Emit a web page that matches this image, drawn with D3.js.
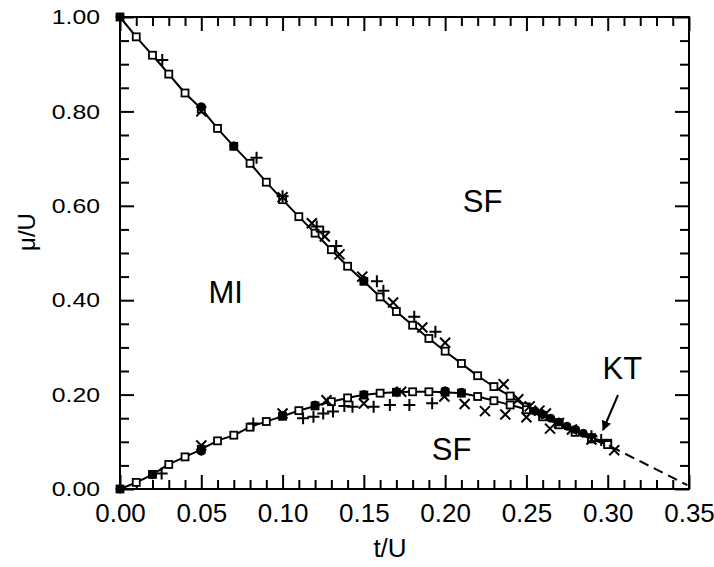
<!DOCTYPE html>
<html><head><meta charset="utf-8">
<script src="https://cdn.jsdelivr.net/npm/d3@7"></script>
<style>
html,body{margin:0;padding:0;background:#fff;}
svg{display:block;}
text{font-family:"Liberation Sans",Arial,Helvetica,sans-serif;fill:#000;}
</style></head><body>
<svg id="chart" width="714" height="567"></svg>
<script>
// ---- data ----
const xTicks = [0, 0.05, 0.10, 0.15, 0.20, 0.25, 0.30, 0.35];
const yTicks = [0, 0.2, 0.4, 0.6, 0.8, 1.0];
const upperSquares = [[0,1.0],[0.01,0.958],[0.02,0.919],[0.03,0.879],[0.04,0.839],[0.05,0.805],[0.06,0.764],[0.07,0.726],[0.08,0.690],[0.09,0.650],[0.10,0.613],[0.11,0.577],[0.12,0.542],[0.13,0.507],[0.14,0.472],[0.15,0.440],[0.16,0.407],[0.17,0.376],[0.18,0.347],[0.19,0.319],[0.20,0.292],[0.21,0.266],[0.22,0.240],[0.23,0.217],[0.24,0.197],[0.25,0.174],[0.26,0.156],[0.27,0.139],[0.28,0.123],[0.29,0.109],[0.30,0.097]];
const lowerSquares = [[0,0],[0.01,0.014],[0.02,0.031],[0.03,0.052],[0.04,0.068],[0.05,0.084],[0.06,0.102],[0.07,0.114],[0.08,0.131],[0.09,0.143],[0.10,0.154],[0.11,0.166],[0.12,0.176],[0.13,0.185],[0.14,0.193],[0.15,0.199],[0.16,0.203],[0.17,0.205],[0.18,0.206],[0.19,0.206],[0.20,0.205],[0.21,0.203],[0.22,0.196],[0.23,0.187],[0.24,0.178],[0.25,0.168],[0.26,0.153],[0.27,0.136],[0.28,0.120],[0.29,0.106],[0.30,0.094]];
const dashedLine = [[0.302,0.090],[0.349,0.008]];
const circles = [[0,1.0],[0.05,0.81],[0.07,0.727],[0.15,0.442],[0,0],[0.02,0.03],[0.05,0.08],[0.10,0.156],[0.12,0.178],[0.15,0.200],[0.17,0.206],[0.20,0.208],[0.21,0.205],[0.255,0.165],[0.26,0.158],[0.265,0.150],[0.27,0.142],[0.275,0.133],[0.28,0.126],[0.285,0.118]];
const upperX = [[0.05,0.80],[0.10,0.618],[0.118,0.563],[0.126,0.535],[0.135,0.497],[0.149,0.45],[0.168,0.395],[0.186,0.342],[0.20,0.31],[0.236,0.222],[0.245,0.19],[0.252,0.175],[0.258,0.166],[0.262,0.160],[0.27,0.140],[0.278,0.126],[0.29,0.105],[0.304,0.082]];
const lowerX = [[0.05,0.092],[0.10,0.160],[0.127,0.188],[0.150,0.181],[0.173,0.206],[0.1995,0.196],[0.212,0.180],[0.2245,0.165],[0.237,0.158],[0.250,0.152],[0.2645,0.128]];
const upperPlus = [[0.026,0.909],[0.084,0.702],[0.10,0.62],[0.121,0.556],[0.125,0.545],[0.133,0.515],[0.158,0.44],[0.162,0.42],[0.181,0.365],[0.194,0.333],[0.29,0.112],[0.296,0.104]];
const lowerPlus = [[0.0256,0.033],[0.082,0.139],[0.1126,0.150],[0.119,0.153],[0.125,0.160],[0.131,0.164],[0.138,0.176],[0.143,0.174],[0.156,0.174],[0.166,0.178],[0.178,0.178],[0.192,0.1815]];
const regionLabels = [["MI",0.065,0.395],["SF",0.223,0.587],["SF",0.204,0.061],["KT",0.309,0.232]];

// ---- layout ----
const svg = d3.select("#chart");
const x = d3.scaleLinear().domain([0,0.35]).range([120,689]);
const y = d3.scaleLinear().domain([0,1]).range([489,17]);
const g = svg.append("g");

// frame
g.append("rect").attr("x",x(0)).attr("y",y(1)).attr("width",x(0.35)-x(0)).attr("height",y(0)-y(1))
 .attr("fill","none").attr("stroke","#000").attr("stroke-width",2);

const xMinor = d3.range(0,36).map(i=>i/100).filter(v=>Math.round(v*100)%5!==0);
const yMinor = [0.05,0.1,0.15,0.25,0.3,0.35,0.45,0.5,0.55,0.65,0.7,0.75,0.85,0.9,0.95];
function tickAxis(axisFn, scale, vals, size, tr){
  const a = g.append("g").attr("transform",tr)
    .call(axisFn(scale).tickValues(vals).tickSizeInner(-size).tickSizeOuter(0).tickFormat(""));
  a.select(".domain").remove();
  a.selectAll("line").attr("stroke","#000").attr("stroke-width",2);
  return a;
}
tickAxis(d3.axisBottom, x, xMinor, 9, `translate(0,${y(0)})`);
tickAxis(d3.axisTop, x, xMinor, 9, `translate(0,${y(1)})`);
tickAxis(d3.axisBottom, x, xTicks, 14, `translate(0,${y(0)})`);
tickAxis(d3.axisTop, x, xTicks, 14, `translate(0,${y(1)})`);
tickAxis(d3.axisLeft, y, yMinor, 9, `translate(${x(0)},0)`);
tickAxis(d3.axisRight, y, yMinor, 9, `translate(${x(0.35)},0)`);
tickAxis(d3.axisLeft, y, yTicks, 14, `translate(${x(0)},0)`);
tickAxis(d3.axisRight, y, yTicks, 14, `translate(${x(0.35)},0)`);

// tick labels
const xl = g.append("g").attr("transform",`translate(0,${y(0)})`)
  .call(d3.axisBottom(x).tickValues(xTicks).tickSize(0).tickPadding(15).tickFormat(d3.format(".2f")));
xl.select(".domain").remove();
xl.selectAll("text").style("font-size","26px").style("font-family","'Liberation Sans',Arial,sans-serif");
const yl = g.append("g").attr("transform",`translate(${x(0)},0)`)
  .call(d3.axisLeft(y).tickValues(yTicks).tickSize(0).tickPadding(20).tickFormat(d3.format(".2f")));
yl.select(".domain").remove();
yl.selectAll("text").style("font-size","21px").style("font-family","'Liberation Sans',Arial,sans-serif")
  .attr("x",-20/1.18).attr("transform","scale(1.18,1)");

// axis titles
svg.append("text").attr("x",390).attr("y",557).attr("text-anchor","middle")
  .style("font-size","26px").text("t/U");
svg.append("text").attr("transform","translate(35,232) rotate(-90)").attr("text-anchor","middle")
  .style("font-size","24px").text("μ/U");

// curves
const line = d3.line().x(d=>x(d[0])).y(d=>y(d[1])).curve(d3.curveMonotoneX);
g.append("path").datum(upperSquares).attr("d",line).attr("fill","none").attr("stroke","#000").attr("stroke-width",2);
g.append("path").datum(lowerSquares).attr("d",line).attr("fill","none").attr("stroke","#000").attr("stroke-width",2);
g.append("path").datum(dashedLine).attr("d",d3.line().x(d=>x(d[0])).y(d=>y(d[1])))
  .attr("fill","none").attr("stroke","#000").attr("stroke-width",2).attr("stroke-dasharray","10,6");

// markers
const sq = 7;
g.selectAll(".sq").data(upperSquares.concat(lowerSquares)).join("rect")
  .attr("x",d=>x(d[0])-sq/2).attr("y",d=>y(d[1])-sq/2).attr("width",sq).attr("height",sq)
  .attr("fill","#fff").attr("stroke","#000").attr("stroke-width",1.8);
g.selectAll(".ci").data(circles).join("circle")
  .attr("cx",d=>x(d[0])).attr("cy",d=>y(d[1])).attr("r",4)
  .attr("fill","#000").attr("stroke","#000").attr("stroke-width",1);
const cr = 5;
g.selectAll(".xm").data(upperX.concat(lowerX)).join("path")
  .attr("d",d=>{const cx=x(d[0]),cy=y(d[1]);return `M${cx-cr},${cy-cr}L${cx+cr},${cy+cr}M${cx-cr},${cy+cr}L${cx+cr},${cy-cr}`;})
  .attr("stroke","#000").attr("stroke-width",2).attr("fill","none");
const pr = 6;
g.selectAll(".pm").data(upperPlus.concat(lowerPlus)).join("path")
  .attr("d",d=>{const cx=x(d[0]),cy=y(d[1]);return `M${cx-pr},${cy}L${cx+pr},${cy}M${cx},${cy-pr}L${cx},${cy+pr}`;})
  .attr("stroke","#000").attr("stroke-width",2).attr("fill","none");

// region labels
g.selectAll(".rl").data(regionLabels).join("text")
  .attr("x",d=>x(d[1])).attr("y",d=>y(d[2])).attr("text-anchor","middle")
  .style("font-size","31px").text(d=>d[0]);

// KT arrow
const defs = svg.append("defs");
defs.append("marker").attr("id","ah").attr("viewBox","0 0 10 10").attr("refX",9).attr("refY",5)
  .attr("markerWidth",5).attr("markerHeight",5).attr("orient","auto")
  .append("path").attr("d","M0,0L10,5L0,10z").attr("fill","#000");
g.append("line").attr("x1",618).attr("y1",395).attr("x2",603).attr("y2",430)
  .attr("stroke","#000").attr("stroke-width",2).attr("marker-end","url(#ah)");
</script></body></html>
